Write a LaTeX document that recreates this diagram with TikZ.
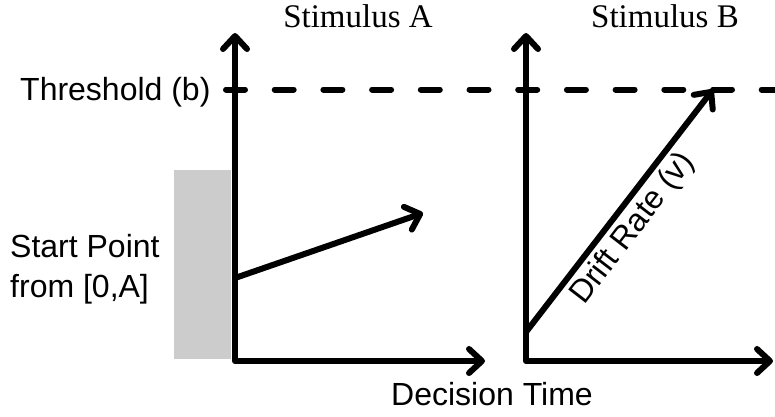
\documentclass[tikz,border=0pt]{standalone}
\usepackage{fontspec}
\setmainfont{Liberation Serif}
\setsansfont{Liberation Sans}
\usetikzlibrary{arrows.meta}
\begin{document}
\begin{tikzpicture}[x=1pt,y=-1pt,
  tipA/.tip={Straight Barb[length=13pt,width=24pt,round]},
  axis/.style={line width=6pt, line join=round, tipA-tipA},
  drift/.style={line width=6pt, -tipA},
  thresh/.style={line width=6pt, line cap=round, dash pattern=on 19pt off 29.7pt},
  sanslab/.style={font=\sffamily\fontsize{32}{40}\selectfont, inner sep=0pt},
  seriflab/.style={font=\rmfamily\fontsize{33}{40}\selectfont, inner sep=0pt},
  startbox/.style={fill=black!20, draw=none}]
\useasboundingbox (0,0) rectangle (775,416);
% gray start point region
\fill[startbox] (174,170) rectangle (231,359);
% axes
\coordinate (yA) at (235,33);
\coordinate (oA) at (235,361);
\coordinate (xA) at (485,361);
\coordinate (yB) at (526,33);
\coordinate (oB) at (526,361);
\coordinate (xB) at (773,361);
\draw[axis] (yA) -- (oA) -- (xA);
\draw[axis] (yB) -- (oB) -- (xB);
% threshold
\coordinate (t0) at (226,89.5);
\coordinate (t1) at (790,89.5);
\draw[thresh] (t0) -- (t1);
% drift lines
\coordinate (sA) at (235,278);
\coordinate (eA) at (423,213);
\coordinate (sB) at (526,332);
\coordinate (eB) at (713,89.5);
\draw[drift] (sA) -- (eA);
\draw[drift] (sB) -- node[pos=0.48, sloped, below, sanslab, inner sep=4pt] (dr) {Drift Rate (v)} (eB);
% labels
\node[sanslab, anchor=base west] (th) at (20,100) {Threshold (b)};
\node[sanslab, anchor=north west, align=left] (sp) at (10,233.7) {Start Point\\from [0,A]};
\node[seriflab, anchor=base] (stA) at (358,27) {Stimulus A};
\node[seriflab, anchor=base] (stB) at (665,27) {Stimulus B};
\node[sanslab, anchor=base] (dt) at (492,405) {Decision Time};
\end{tikzpicture}
\end{document}
